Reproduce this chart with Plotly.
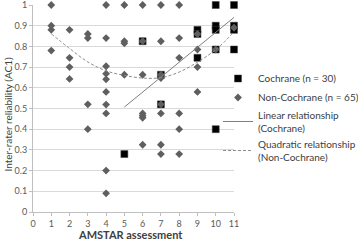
import plotly.graph_objects as go

# ---- data ----
coch_x = [5, 6, 7, 7, 9, 9, 9, 10, 10, 10, 10, 10, 11, 11, 11, 11]
coch_y = [0.28, 0.825, 0.663, 0.52, 0.88, 0.86, 0.745, 1.0, 0.90, 0.88, 0.785, 0.40, 1.0, 0.90, 0.88, 0.785]

non_x = [1, 1, 1, 1,
         2, 2, 2, 2,
         3, 3, 3, 3,
         4, 4, 4, 4, 4, 4, 4, 4, 4, 4,
         5, 5, 5, 5,
         6, 6, 6, 6, 6, 6, 6,
         7, 7, 7, 7, 7, 7, 7, 7,
         8, 8, 8, 8, 8, 8,
         9, 9, 9, 9,
         10, 11]
non_y = [1.0, 0.90, 0.88, 0.78,
         0.88, 0.745, 0.70, 0.643,
         0.86, 0.84, 0.52, 0.40,
         1.0, 0.84, 0.704, 0.668, 0.641, 0.58, 0.519, 0.476, 0.20, 0.09,
         1.0, 0.825, 0.815, 0.663,
         1.0, 0.825, 0.663, 0.476, 0.465, 0.455, 0.325,
         1.0, 0.825, 0.663, 0.647, 0.52, 0.476, 0.325, 0.28,
         1.0, 0.84, 0.745, 0.476, 0.40, 0.28,
         0.86, 0.785, 0.70, 0.58,
         0.785, 0.89]

lin_x = [5, 11]
lin_y = [0.507, 0.94]

quad_x = [1, 2, 3, 4, 5, 6, 7, 8, 9, 10, 11]
quad_y = [0.861, 0.79, 0.725, 0.682, 0.66, 0.647, 0.649, 0.676, 0.724, 0.784, 0.87]

x_ticks = list(range(0, 12))
y_ticks = [0, 0.1, 0.2, 0.3, 0.4, 0.5, 0.6, 0.7, 0.8, 0.9, 1]
y_ticklabels = ["0", "0.1", "0.2", "0.3", "0.4", "0.5", "0.6", "0.7", "0.8", "0.9", "1"]

FONT = "Lato"
W, H = 358, 241
L, R, T, B = 33, 124, 5, 29
PW, PH = W - L - R, H - T - B

fig = go.Figure()
fig.add_trace(go.Scatter(
    x=coch_x, y=coch_y, mode="markers", name="Cochrane (n = 30)",
    marker=dict(symbol="square", size=7, color="#000000",
                line=dict(color="#404040", width=0.5)),
    cliponaxis=False))
fig.add_trace(go.Scatter(
    x=non_x, y=non_y, mode="markers", name="Non-Cochrane (n = 65)",
    marker=dict(symbol="diamond", size=6, color="#5f5f5f", line=dict(width=0)),
    cliponaxis=False))
fig.add_trace(go.Scatter(
    x=lin_x, y=lin_y, mode="lines", name="Linear relationship<br>(Cochrane)",
    line=dict(color="#7f7f7f", width=1)))
fig.add_trace(go.Scatter(
    x=quad_x, y=quad_y, mode="lines", name="Quadratic relationship<br>(Non-Cochrane)",
    line=dict(color="#8c8c8c", width=1, dash="3px,2px", shape="spline", smoothing=1.0)))

fig.update_layout(
    width=W, height=H,
    margin=dict(l=L, r=R, t=T, b=B, autoexpand=False),
    paper_bgcolor="white", plot_bgcolor="white",
    font=dict(family=FONT, size=9, color="#595959"),
    showlegend=True,
    legend=dict(xref="container", yref="container",
                x=218 / W, y=1 - 64 / H, xanchor="left", yanchor="top",
                bgcolor="rgba(0,0,0,0)", itemwidth=30,
                font=dict(family=FONT, size=10, color="#404040"),
                tracegroupgap=0),
    xaxis=dict(range=[0, 11], tickvals=x_ticks, showgrid=False, automargin=False,
               showline=True, linecolor="#bfbfbf", linewidth=1,
               ticks="outside", ticklen=3, tickcolor="#bfbfbf",
               zeroline=False, tickfont=dict(size=9, color="#595959")),
    yaxis=dict(range=[0, 1], tickvals=y_ticks, ticktext=y_ticklabels, automargin=False,
               showgrid=True, gridcolor="#d9d9d9", gridwidth=1,
               showline=True, linecolor="#bfbfbf", linewidth=1,
               ticks="outside", ticklen=3, tickcolor="#bfbfbf",
               ticklabeloverflow="allow",
               zeroline=False, tickfont=dict(size=9, color="#595959")),
    annotations=[
        dict(text="AMSTAR assessment", xref="paper", yref="paper",
             x=(130 - L) / PW, y=-(234 - (H - B)) / PH,
             xanchor="center", yanchor="middle", showarrow=False,
             font=dict(family=FONT, size=11, color="#404040", weight="bold")),
        dict(text="Inter-rater reliability (AC1)", xref="paper", yref="paper",
             x=(7.5 - L) / PW, y=((H - B) - 114) / PH, textangle=-90,
             xanchor="center", yanchor="middle", showarrow=False,
             font=dict(family=FONT, size=10, color="#404040")),
    ],
)

fig.write_html("out.html",
               config={"displayModeBar": False},
               post_script="document.body.style.margin='0';document.body.style.overflow='hidden';")
